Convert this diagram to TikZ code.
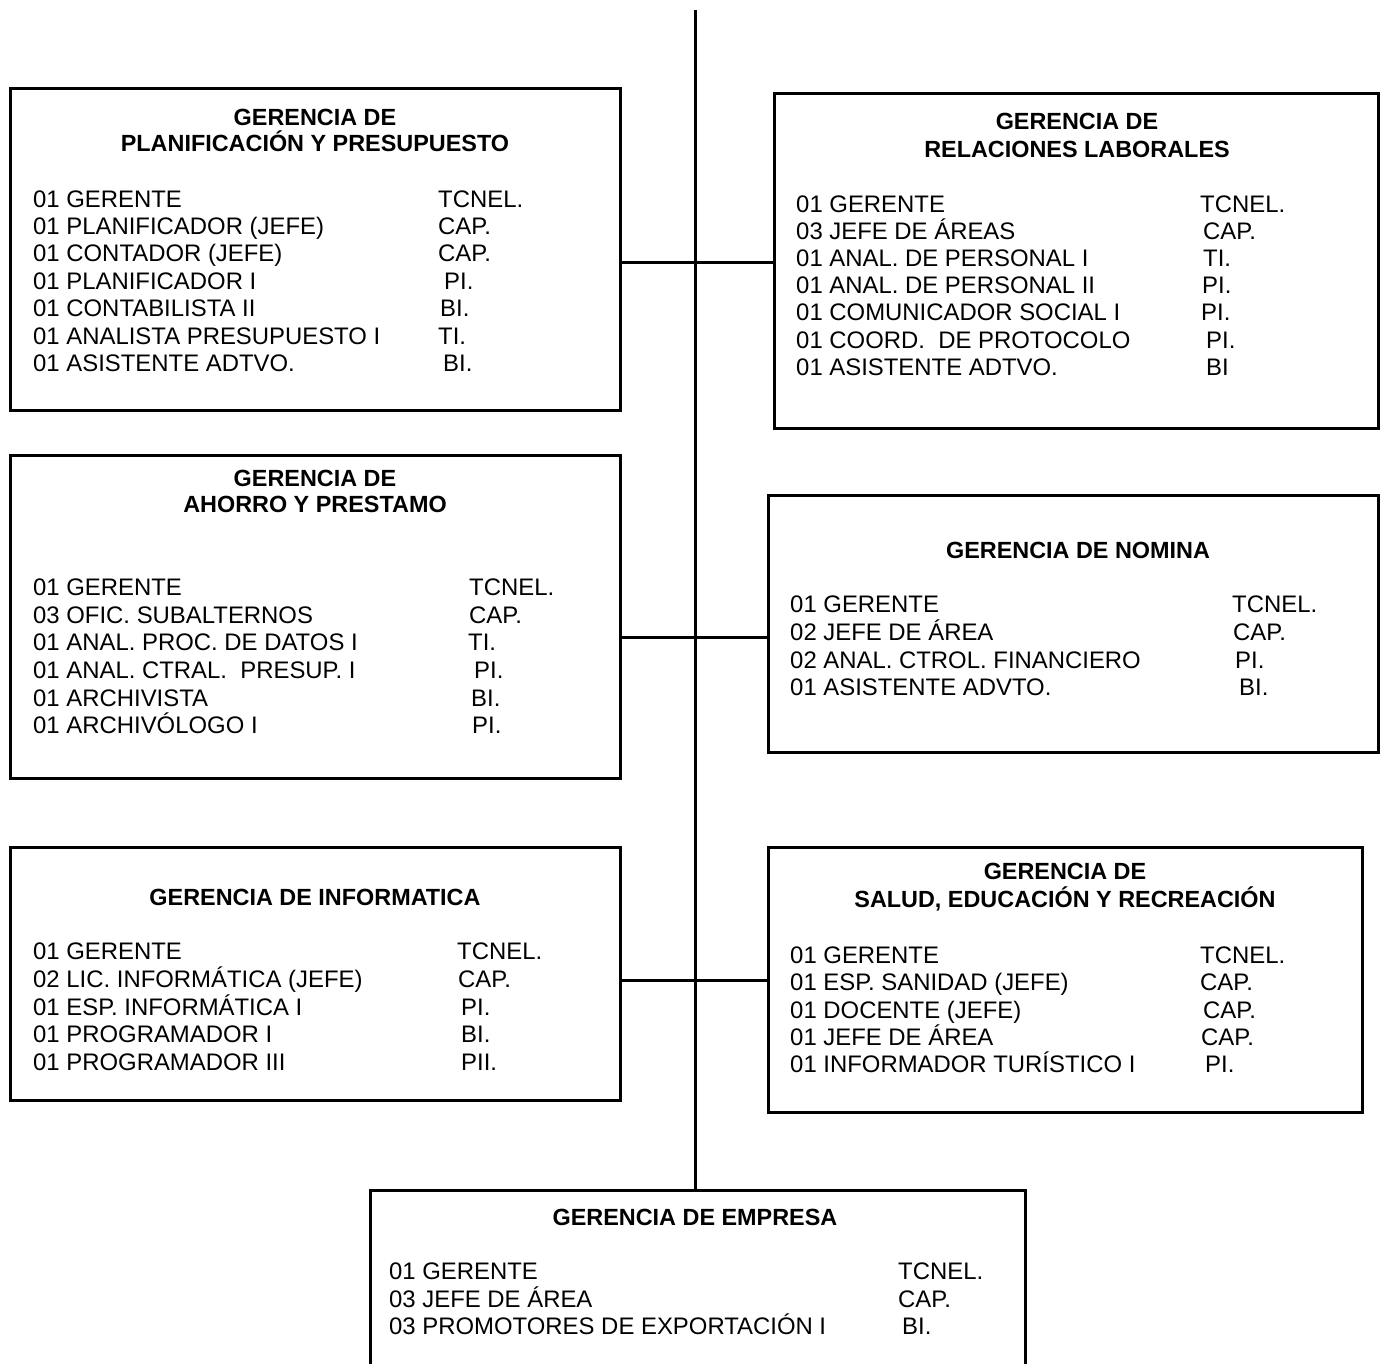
\documentclass[tikz,border=0pt]{standalone}
\usepackage{fontspec}
\setmainfont{Liberation Sans}
% one staff list: prefix, x of the entries, first baseline, line step, entries
\newcommand\stafflist[5]{%
  \foreach \txt/\rank/\rx [count=\k from 0] in {#5} {%
    \node[entry] (#1i\k) at (#2, {#3+#4*\k}) {\txt};
    \node[entry] (#1r\k) at (\rx, {#3+#4*\k}) {\rank};
  }}
\begin{document}
\frenchspacing
\begin{tikzpicture}[x=1pt,y=-1pt,
  box/.style={draw, line width=3pt, inner sep=0pt},
  wire/.style={line width=3pt},
  head/.style={anchor=base, inner sep=0pt, font=\bfseries\fontsize{23.4}{27}\selectfont},
  entry/.style={anchor=base west, inner sep=0pt, font=\fontsize{23.9}{27}\selectfont}]
\useasboundingbox (0,0) rectangle (1380,1363);
\fill[white] (0,0) rectangle (1380,1363);
\clip (0,0) rectangle (1380,1363);

% boxes
\node[box, minimum width=610pt, minimum height=322pt] (b1) at (315,249) {};
\node[box, minimum width=604pt, minimum height=335pt] (b2) at (1076,260.5) {};
\node[box, minimum width=610pt, minimum height=323pt] (b3) at (315,616.5) {};
\node[box, minimum width=610pt, minimum height=257pt] (b4) at (1073,623.5) {};
\node[box, minimum width=610pt, minimum height=253pt] (b5) at (315,973.5) {};
\node[box, minimum width=594pt, minimum height=265pt] (b6) at (1065,979.5) {};
\node[box, minimum width=655pt, minimum height=300pt] (b7) at (697.5,1340) {};

% spine and branches
\coordinate (top) at (695,10);
\coordinate (j1) at (695,262);
\coordinate (j2) at (695,637);
\coordinate (j3) at (695,980);
\draw[wire] (top) -- (top |- b7.north);
\draw[wire] (b1.east |- j1) -- (b2.west |- j1);
\draw[wire] (b3.east |- j2) -- (b4.west |- j2);
\draw[wire] (b5.east |- j3) -- (b6.west |- j3);

% headings
\node[head] (h1a) at (315,125) {GERENCIA DE};
\node[head] (h1b) at (315,151) {PLANIFICACIÓN Y PRESUPUESTO};
\node[head] (h2a) at (1077,129) {GERENCIA DE};
\node[head] (h2b) at (1077,157) {RELACIONES LABORALES};
\node[head] (h3a) at (315,486.5) {GERENCIA DE};
\node[head] (h3b) at (315,512.5) {AHORRO Y PRESTAMO};
\node[head] (h4a) at (1078,558.5) {GERENCIA DE NOMINA};
\node[head] (h5a) at (315,905.5) {GERENCIA DE INFORMATICA};
\node[head] (h6a) at (1065,879.5) {GERENCIA DE};
\node[head] (h6b) at (1065,907.5) {SALUD, EDUCACIÓN Y RECREACIÓN};
\node[head] (h7a) at (695,1225.5) {GERENCIA DE EMPRESA};

% staff
\stafflist{p1}{33}{207.1}{27.4}{01 GERENTE/TCNEL./438, 01 PLANIFICADOR (JEFE)/CAP./438,
  01 CONTADOR (JEFE)/CAP./438, 01 PLANIFICADOR I/PI./444, 01 CONTABILISTA II/BI./440,
  01 ANALISTA PRESUPUESTO I/TI./438, 01 ASISTENTE ADTVO./BI./443}
\stafflist{p2}{796}{212.1}{27.2}{01 GERENTE/TCNEL./1200, 03 JEFE DE ÁREAS/CAP./1203,
  01 ANAL. DE PERSONAL I/TI./1203, 01 ANAL. DE PERSONAL II/PI./1202,
  01 COMUNICADOR SOCIAL I/PI./1201, 01 COORD.\ \ DE PROTOCOLO/PI./1206,
  01 ASISTENTE ADTVO./BI/1206}
\stafflist{p3}{33}{595.6}{27.6}{01 GERENTE/TCNEL./469, 03 OFIC. SUBALTERNOS/CAP./469,
  01 ANAL. PROC. DE DATOS I/TI./468, 01 ANAL. CTRAL.\ \ PRESUP. I/PI./474,
  01 ARCHIVISTA/BI./471, 01 ARCHIVÓLOGO I/PI./472}
\stafflist{p4}{790}{612.6}{27.7}{01 GERENTE/TCNEL./1232, 02 JEFE DE ÁREA/CAP./1233,
  02 ANAL. CTROL. FINANCIERO/PI./1235, 01 ASISTENTE ADVTO./BI./1239}
\stafflist{p5}{33}{959.6}{27.7}{01 GERENTE/TCNEL./457, 02 LIC. INFORMÁTICA (JEFE)/CAP./458,
  01 ESP. INFORMÁTICA I/PI./461, 01 PROGRAMADOR I/BI./461, 01 PROGRAMADOR III/PII./461}
\stafflist{p6}{790}{963.6}{27.3}{01 GERENTE/TCNEL./1200, 01 ESP. SANIDAD (JEFE)/CAP./1200,
  01 DOCENTE (JEFE)/CAP./1203, 01 JEFE DE ÁREA/CAP./1201, 01 INFORMADOR TURÍSTICO I/PI./1205}
\stafflist{p7}{389}{1279.6}{27.5}{01 GERENTE/TCNEL./898, 03 JEFE DE ÁREA/CAP./898,
  03 PROMOTORES DE EXPORTACIÓN I/BI./902}
\end{tikzpicture}
\end{document}
